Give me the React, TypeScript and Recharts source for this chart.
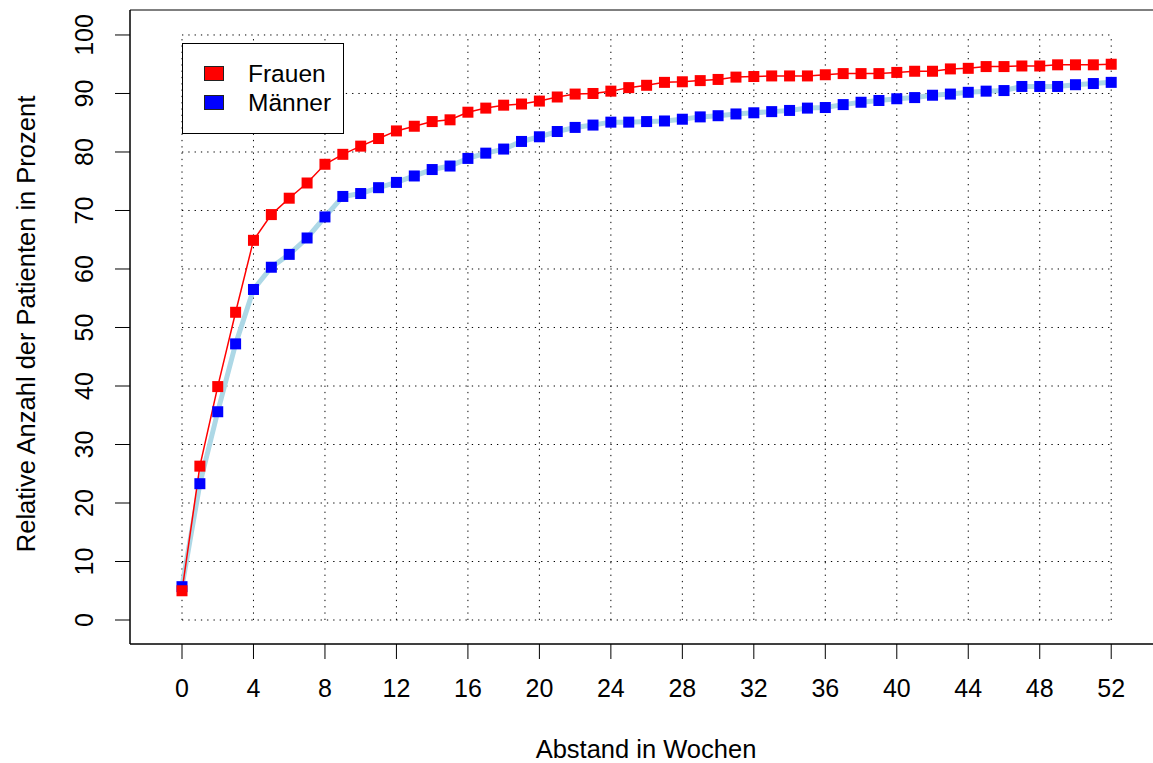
import React from "react"
import { LineChart, Line, XAxis, YAxis, ReferenceLine, ReferenceArea } from "recharts"

// Kumulativer Anteil der Patienten je Woche
const weeks = [
  0, 1, 2, 3, 4, 5, 6, 7, 8, 9, 10, 11, 12, 13, 14, 15, 16, 17, 18, 19, 20, 21, 22, 23, 24, 25, 26,
  27, 28, 29, 30, 31, 32, 33, 34, 35, 36, 37, 38, 39, 40, 41, 42, 43, 44, 45, 46, 47, 48, 49, 50, 51, 52,
]
const frauen = [
  5.0, 26.3, 39.9, 52.6, 64.9, 69.3, 72.1, 74.7, 77.9, 79.6, 81.0, 82.3, 83.6, 84.4, 85.2, 85.5, 86.8,
  87.5, 88.0, 88.2, 88.7, 89.4, 89.9, 90.0, 90.4, 91.0, 91.4, 91.9, 92.0, 92.2, 92.4, 92.8, 92.9, 93.0,
  93.0, 93.0, 93.2, 93.4, 93.4, 93.4, 93.6, 93.8, 93.8, 94.2, 94.3, 94.6, 94.6, 94.7, 94.7, 94.9, 94.9,
  94.9, 95.0,
]
const maenner = [
  5.7, 23.3, 35.6, 47.2, 56.5, 60.3, 62.5, 65.3, 68.9, 72.4, 72.9, 73.9, 74.8, 75.9, 77.0, 77.6, 78.9,
  79.8, 80.5, 81.8, 82.6, 83.5, 84.2, 84.6, 85.1, 85.1, 85.2, 85.3, 85.6, 86.0, 86.2, 86.5, 86.7, 86.9,
  87.1, 87.5, 87.6, 88.1, 88.5, 88.8, 89.1, 89.3, 89.7, 89.9, 90.2, 90.4, 90.5, 91.2, 91.2, 91.2, 91.5,
  91.7, 91.9,
]
const xTicks = [0, 4, 8, 12, 16, 20, 24, 28, 32, 36, 40, 44, 48, 52]
const yTicks = [0, 10, 20, 30, 40, 50, 60, 70, 80, 90, 100]

const data = weeks.map((w, i) => ({ week: w, frauen: frauen[i], maenner: maenner[i] }))

const FONT = "'Liberation Sans', Arial, sans-serif"
const X_DOMAIN = [-2.91, 54.73]
const Y_DOMAIN = [-4.1, 104.27]

const square = (color: string) => (props: any) => {
  const { cx, cy, index } = props
  if (cx == null || cy == null) return <g key={index} />
  return <rect key={index} x={cx - 5.5} y={cy - 5.5} width={11} height={11} fill={color} />
}

const XTick = ({ x, payload }: any) => (
  <text x={x} y={688} textAnchor="middle" dominantBaseline="central" fontSize={25} fontFamily={FONT} fill="#000">
    {payload.value}
  </text>
)

const YTick = ({ y, payload }: any) => (
  <text
    x={84}
    y={y}
    transform={`rotate(-90, 84, ${y})`}
    textAnchor="middle"
    dominantBaseline="central"
    fontSize={25}
    fontFamily={FONT}
    fill="#000"
  >
    {payload.value}
  </text>
)

const dotted = { stroke: "#000", strokeWidth: 1, strokeDasharray: "1.3 5" }

export default function App() {
  return (
    <div style={{ position: "absolute", left: 0, top: 0, width: 1153, height: 763, overflow: "hidden", background: "#fff" }}>
      <LineChart width={1200} height={763} data={data} margin={{ top: 10, right: 40, left: 0, bottom: 0 }}>
        <XAxis
          dataKey="week"
          type="number"
          domain={X_DOMAIN}
          ticks={xTicks}
          interval={0}
          allowDataOverflow
          height={119}
          tickSize={15}
          axisLine={{ stroke: "#000" }}
          tickLine={{ stroke: "#000" }}
          tick={<XTick />}
          label={{
            content: () => (
              <text x={646} y={749} textAnchor="middle" dominantBaseline="central" fontSize={25.5} fontFamily={FONT} fill="#000">
                Abstand in Wochen
              </text>
            ),
          }}
        />
        <YAxis
          type="number"
          domain={Y_DOMAIN}
          ticks={yTicks}
          interval={0}
          allowDataOverflow
          width={130}
          tickSize={15}
          axisLine={{ stroke: "#000" }}
          tickLine={{ stroke: "#000" }}
          tick={<YTick />}
          label={{
            content: () => (
              <text
                x={26}
                y={324}
                transform="rotate(-90, 26, 324)"
                textAnchor="middle"
                dominantBaseline="central"
                fontSize={25.5}
                fontFamily={FONT}
                fill="#000"
              >
                Relative Anzahl der Patienten in Prozent
              </text>
            ),
          }}
        />
        <ReferenceArea x1={X_DOMAIN[0]} x2={X_DOMAIN[1]} y1={Y_DOMAIN[0]} y2={Y_DOMAIN[1]} fill="none" stroke="#000" strokeWidth={1} />
        {xTicks.map((t) => (
          <ReferenceLine key={`vx${t}`} segment={[{ x: t, y: 0 }, { x: t, y: 100 }]} {...dotted} />
        ))}
        {yTicks.map((t) => (
          <ReferenceLine key={`hy${t}`} segment={[{ x: 0, y: t }, { x: 52, y: t }]} {...dotted} />
        ))}
        <Line
          dataKey="maenner"
          stroke="#ADD8E6"
          strokeWidth={5}
          dot={square("#0000FF")}
          activeDot={false}
          isAnimationActive={false}
        />
        <Line
          dataKey="frauen"
          stroke="#FF0000"
          strokeWidth={1.5}
          dot={square("#FF0000")}
          activeDot={false}
          isAnimationActive={false}
        />
      </LineChart>
      <div
        style={{
          position: "absolute",
          left: 182,
          top: 43,
          width: 162,
          height: 91,
          boxSizing: "border-box",
          border: "1px solid #000",
          background: "#fff",
          fontFamily: FONT,
          fontSize: 24.5,
          color: "#000",
        }}
      >
        <div style={{ position: "absolute", left: 21, top: 22, width: 20, height: 15, boxSizing: "border-box", background: "#FF0000", border: "1px solid #222" }} />
        <div style={{ position: "absolute", left: 65, top: 16, lineHeight: "28px" }}>Frauen</div>
        <div style={{ position: "absolute", left: 21, top: 51, width: 20, height: 15, boxSizing: "border-box", background: "#0000FF", border: "1px solid #222" }} />
        <div style={{ position: "absolute", left: 65, top: 45, lineHeight: "28px" }}>Männer</div>
      </div>
    </div>
  )
}
